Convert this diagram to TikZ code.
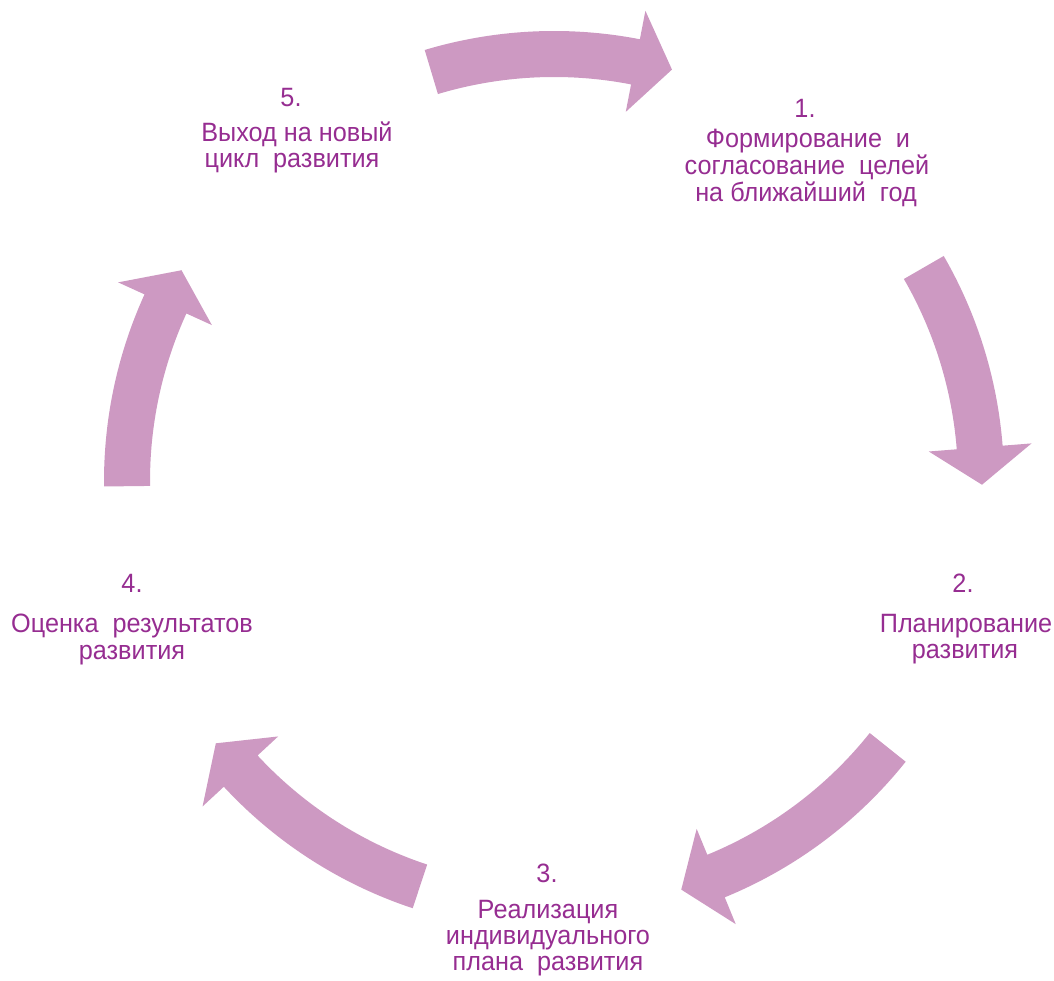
\documentclass[tikz,border=0pt]{standalone}
\usepackage{fontspec}
\usepackage{graphicx}
\setmainfont{Liberation Sans}
\definecolor{arrowfill}{RGB}{205,153,194}
\definecolor{txt}{RGB}{150,45,145}
\newcommand{\T}[1]{\scalebox{1.01}[1.06]{#1}}
\newcommand{\ws}{\hspace{0.55em}}
\newcommand{\cyclearrow}[2]{%
  \pgfmathsetmacro\hb{#2+5}%
  \fill[arrowfill] (#1:450) arc[start angle=#1, end angle=\hb, radius=450]
    -- (\hb:479) -- (#2:428) -- (\hb:376) -- (\hb:404)
    arc[start angle=\hb, end angle=#1, radius=404] -- cycle;}
\tikzset{lbl/.style={anchor=base, inner sep=0pt, text=txt, font=\fontsize{25}{27}\selectfont}}
\begin{document}
\begin{tikzpicture}[x=1pt,y=1pt]
\useasboundingbox (0,0) rectangle (1054,980);
\begin{scope}[shift={(554,499)}]
  \cyclearrow{106.7}{74}
  \cyclearrow{30}{-0.5}
  \cyclearrow{-38.6}{-72.7}
  \cyclearrow{-108.3}{-142.2}
  \cyclearrow{180.7}{150.5}
\end{scope}
% block 1
\node[lbl] (n1) at (805,862) {\T{1.}};
\node[lbl] (t1a) at (808,832) {\T{Формирование\ws и}};
\node[lbl] (t1b) at (807,805) {\T{согласование\ws целей}};
\node[lbl] (t1c) at (806,778) {\T{на ближайший\ws год}};
% block 2
\node[lbl] (n2) at (963,387) {\T{2.}};
\node[lbl] (t2a) at (966,347) {\T{Планирование}};
\node[lbl] (t2b) at (965,321) {\T{развития}};
% block 3
\node[lbl] (n3) at (547,98) {\T{3.}};
\node[lbl] (t3a) at (548,62) {\T{Реализация}};
\node[lbl] (t3b) at (548,36) {\T{индивидуального}};
\node[lbl] (t3c) at (548,10) {\T{плана\ws развития}};
% block 4
\node[lbl] (n4) at (132,387) {\T{4.}};
\node[lbl] (t4a) at (132,347) {\T{Оценка\ws результатов}};
\node[lbl] (t4b) at (132,320) {\T{развития}};
% block 5
\node[lbl] (n5) at (291,873) {\T{5.}};
\node[lbl] (t5a) at (297,838) {\T{Выход на новый}};
\node[lbl] (t5b) at (292,812) {\T{цикл\ws развития}};
\end{tikzpicture}
\end{document}
